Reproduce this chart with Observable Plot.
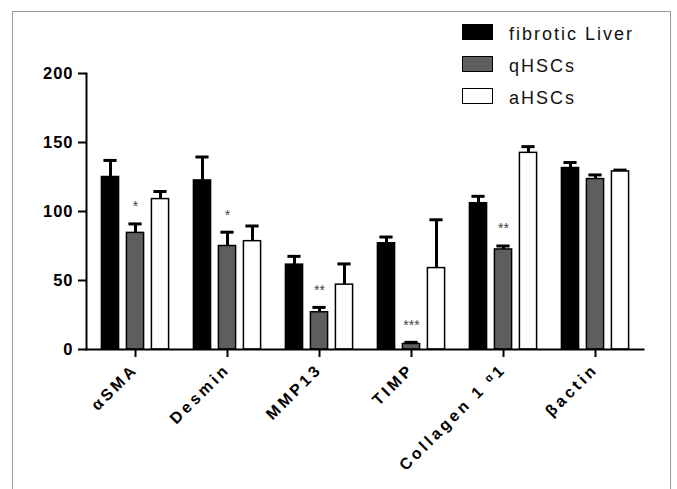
<!DOCTYPE html>
<html>
<head>
<meta charset="utf-8">
<script src="https://cdn.jsdelivr.net/npm/d3@7"></script>
<script src="https://cdn.jsdelivr.net/npm/@observablehq/plot@0.6"></script>
<style>
  html, body { margin: 0; padding: 0; background: #fff; overflow: hidden; }
  body { width: 677px; height: 489px; position: relative; font-family: "Liberation Sans", Arial, sans-serif; }
  #border { position: absolute; left: 12px; top: 11px; width: 659px; height: 520px; border: 1.5px solid #9a9a9a; border-bottom: none; box-sizing: border-box; }
  #chart { position: absolute; left: 0; top: 0; }
  #legend { position: absolute; left: 462px; top: 24px; }
  .lg-row { position: absolute; left: 0; height: 16px; white-space: nowrap; }
  .lg-sw { position: absolute; left: 0; top: 0; width: 31px; height: 16px; box-sizing: border-box; border: 1.5px solid #000; }
  .lg-tx { position: absolute; left: 47px; top: -1px; font-size: 18px; letter-spacing: 2px; color: #111; line-height: 22px; }
  g[aria-label="x-axis tick label"] text { letter-spacing: 3.3px; }
  g[aria-label="y-axis tick label"] text { letter-spacing: 1px; }
</style>
</head>
<body>
<div id="border"></div>
<div id="chart"></div>
<div id="legend"></div>
<script>
// ---- data ----
const categories = ["\u03b1SMA", "Desmin", "MMP13", "TIMP", "Collagen 1 \u1d451", "\u03b2actin"];
const seriesNames = ["fibrotic Liver", "qHSCs", "aHSCs"];
const liverValues = [125, 122.5, 61.5, 77, 106, 131.5];
const liverErrors = [12, 17, 6, 4.5, 5, 4];
const qhscValues = [84.5, 75, 27, 4, 72.5, 123.5];
const qhscErrors = [6.5, 10, 3.5, 1.2, 2.5, 3];
const ahscValues = [109, 78.5, 47, 59, 142.5, 129];
const ahscErrors = [5.5, 11, 15, 35, 4.5, 1];
const significance = ["*", "*", "**", "***", "**", ""];
const yTicks = [0, 50, 100, 150, 200];

// ---- styles ----
const fills = ["#000000", "#5e5e5e", "#ffffff"];
const offsets = [-25, 0, 25];
const W = 677, H = 489;
const mL = 86, mR = 34, mT = 73, mB = 140;
const bandW = (W - mL - mR) / categories.length;
const barW = 18, capW = 14;
const barInset = (bandW - barW) / 2;
const capInset = (bandW - capW) / 2;

const valueSets = [liverValues, qhscValues, ahscValues];
const errorSets = [liverErrors, qhscErrors, ahscErrors];

const marks = [];
seriesNames.forEach((name, i) => {
  const rows = categories.map((c, j) => ({cat: c, series: name, value: valueSets[i][j], err: errorSets[i][j], sig: significance[j]}));
  marks.push(Plot.ruleX(rows, {x: "cat", y1: "value", y2: d => d.value + d.err, dx: offsets[i], stroke: "#000", strokeWidth: 3}));
  marks.push(Plot.tickY(rows, {x: "cat", y: d => d.value + d.err, dx: offsets[i], insetLeft: capInset, insetRight: capInset, stroke: "#000", strokeWidth: 3}));
  marks.push(Plot.barY(rows, {x: "cat", y: "value", fill: fills[i], stroke: "#000", strokeWidth: 1.5, insetLeft: barInset, insetRight: barInset, dx: offsets[i]}));
  if (i === 1) {
    marks.push(Plot.text(rows, {x: "cat", y: d => d.value + d.err, text: "sig", dx: offsets[i], dy: -17, fontSize: 14, fill: "#444"}));
  }
});

const chart = Plot.plot({
  width: W, height: H,
  marginLeft: mL, marginRight: mR, marginTop: mT, marginBottom: mB,
  style: {fontFamily: "'Liberation Sans', Arial, sans-serif", color: "#000", background: "transparent"},
  x: {domain: categories, padding: 0},
  y: {domain: [0, 200]},
  marks: [
    ...marks,
    Plot.frame({anchor: "left", stroke: "#000", strokeWidth: 2}),
    Plot.frame({anchor: "bottom", stroke: "#000", strokeWidth: 2}),
    Plot.axisY({ticks: yTicks, tickSize: 8, tickPadding: 5, strokeWidth: 2, fontSize: 16.5, fontWeight: "bold", label: null, tickFormat: d => String(d)}),
    Plot.axisX({tickSize: 8, tickPadding: 9, strokeWidth: 2, tickRotate: -45, fontSize: 16, fontWeight: "bold", label: null})
  ]
});
document.getElementById("chart").appendChild(chart);

// legend
const legend = d3.select("#legend");
seriesNames.forEach((name, i) => {
  const row = legend.append("div").attr("class", "lg-row").style("top", (i * 32) + "px");
  row.append("div").attr("class", "lg-sw").style("background", fills[i]);
  row.append("div").attr("class", "lg-tx").text(name);
});
</script>
</body>
</html>
